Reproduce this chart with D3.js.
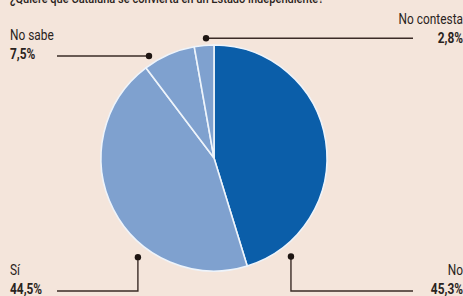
<!DOCTYPE html>
<html><head><meta charset="utf-8">
<script src="https://cdn.jsdelivr.net/npm/d3@7"></script>
<style>
html,body{margin:0;padding:0;background:#f4e5db;}
svg{display:block;}
text{font-family:Roboto,"Noto Sans",sans-serif;fill:#2a2320;}
</style></head>
<body>
<script>
const title = "¿Quiere que Cataluña se convierta en un Estado independiente?";
const categories = ["No", "Sí", "No sabe", "No contesta"];
const values = [45.3, 44.5, 7.5, 2.8];
const valueLabels = ["45,3%", "44,5%", "7,5%", "2,8%"];
const colors = ["#0b5ea9", "#7fa1cf", "#7fa1cf", "#7fa1cf"];

const W = 463, H = 296;
const cx = 214, cy = 158, R = 113;
const sx = 0.82;

const svg = d3.select("body").append("svg").attr("width", W).attr("height", H);
svg.append("rect").attr("width", W).attr("height", H).attr("fill", "#f4e5db");

svg.append("text").attr("transform", `translate(10,3) scale(${sx},1)`)
  .attr("font-size", 13.5).attr("font-weight", 500).text(title);

const pie = d3.pie().sort(null).value(d => d)(values);
const arc = d3.arc().innerRadius(0).outerRadius(R);
const g = svg.append("g").attr("transform", `translate(${cx},${cy})`);
g.selectAll("path").data(pie).join("path")
  .attr("d", arc).attr("fill", (d, i) => colors[i])
  .attr("stroke", "#eef4fb").attr("stroke-width", 1.6);

// annotation layout: dot anchor (angle deg, radius), label side, line style
const ann = [
  {i: 0, ang: 142, r: 125, type: "down", endX: 413, lineY: 291, tx: 463, ty: 275, anchor: "end"},
  {i: 1, ang: 217.5, r: 125, type: "down", endX: 57, lineY: 291, tx: 10, ty: 275, anchor: "start"},
  {i: 2, ang: -32.5, r: 121, type: "flat", endX: 57, tx: 10, ty: 40, anchor: "start"},
  {i: 3, ang: -3.8, r: 120, type: "flat", endX: 413, tx: 463, ty: 24, anchor: "end"}
];

const lineColor = "#3a2b26";
ann.forEach(a => {
  const [px, py] = d3.pointRadial(a.ang * Math.PI / 180, a.r);
  const x = cx + px, y = cy + py;
  let pts;
  if (a.type === "down") pts = [[x, y], [x, a.lineY], [a.endX, a.lineY]];
  else pts = [[x, y], [a.endX, y]];
  svg.append("path").attr("d", d3.line()(pts)).attr("fill", "none")
    .attr("stroke", lineColor).attr("stroke-width", 1.4);
  svg.append("circle").attr("cx", x).attr("cy", y).attr("r", 3.2).attr("fill", "#1e1512");
  svg.append("text").attr("transform", `translate(${a.tx},${a.ty}) scale(${sx},1)`)
    .attr("text-anchor", a.anchor).attr("font-size", 14.5).text(categories[a.i]);
  svg.append("text").attr("transform", `translate(${a.tx},${a.ty + 19}) scale(${sx},1)`)
    .attr("text-anchor", a.anchor).attr("font-size", 14.5).attr("font-weight", 700).text(valueLabels[a.i]);
});
</script>
</body></html>
